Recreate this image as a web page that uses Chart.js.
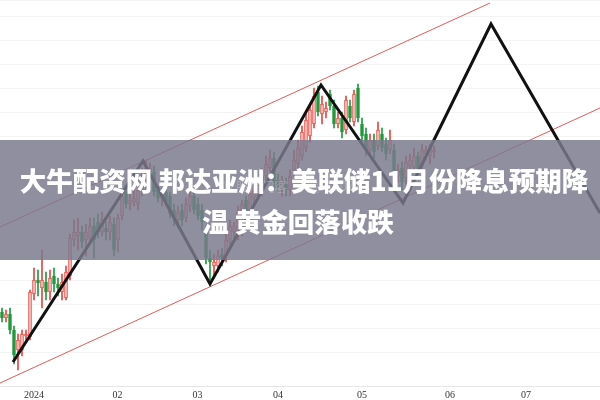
<!DOCTYPE html>
<html>
<head>
<meta charset="utf-8">
<script src="https://cdn.jsdelivr.net/npm/chart.js@4.4.1/dist/chart.umd.min.js"></script>
<style>
  html, body { margin: 0; padding: 0; background: #fff; }
  #wrap { width: 600px; height: 400px; }
</style>
</head>
<body>
<div id="wrap"><canvas id="goldChart" width="600" height="400"></canvas></div>
<script>
// month labels and the trading-day index where each month starts
const monthLabels = ['2024', '02', '03', '04', '05', '06', '07'];
const monthStart = [8.5, 29.4, 49.4, 69.5, 90.5, 112.5, 131.5];

// daily candles (one per trading day)
const opens  = [2080,2074,2078,2062,2042,2042,2056,2055,2098,2112,2104,2110,2100,2116,2108,2100,2094,2116,2152,2156,
                2160,2152,2154,2166,2170,2160,2164,2160,2168,2152,2176,2200,2188,2190,2188,2200,2212,2220,2220,2202,
                2194,2200,2196,2182,2172,2182,2174,2186,2196,2188,2182,2160,2134,2126,2126,2138,2136,2150,2160,2160,
                2176,2192,2182,2194,2196,2202,2216,2224,2234,2212,2204,2208,2202,2222,2228,2236,2244,2256,2268,2300,
                2278,2280,2298,2286,2268,2274,2262,2286,2270,2304,2268,2258,2242,2252,2246,2258,2248,2242,2242,2216,
                2224,2214,2226,2224,2236,2226,2238,2236,2240];
const highs  = [2084,2082,2084,2066,2058,2062,2062,2102,2124,2122,2142,2120,2122,2124,2114,2118,2126,2158,2172,2174,
                2166,2168,2174,2174,2178,2180,2170,2176,2174,2178,2202,2206,2198,2204,2206,2224,2232,2229,2226,2206,
                2204,2206,2200,2188,2186,2188,2194,2206,2202,2194,2188,2164,2142,2138,2142,2144,2158,2172,2170,2186,
                2192,2196,2204,2210,2214,2224,2236,2242,2240,2218,2216,2214,2222,2242,2252,2266,2278,2288,2304,2306,
                2296,2290,2302,2292,2280,2280,2296,2292,2302,2308,2274,2264,2258,2258,2270,2264,2254,2262,2248,2228,
                2230,2236,2238,2244,2240,2248,2246,2248,2246];
const lows   = [2070,2070,2058,2028,2022,2036,2050,2052,2092,2096,2084,2092,2092,2100,2096,2092,2092,2112,2146,2142,
                2144,2136,2148,2134,2154,2156,2152,2152,2136,2140,2172,2184,2182,2186,2182,2196,2202,2214,2196,2190,
                2186,2186,2174,2166,2164,2166,2170,2180,2178,2172,2162,2128,2112,2116,2120,2126,2130,2146,2152,2152,
                2156,2174,2178,2188,2192,2196,2212,2220,2204,2200,2196,2196,2196,2216,2222,2232,2240,2250,2264,2276,
                2268,2274,2282,2264,2264,2254,2258,2270,2266,2270,2250,2236,2236,2234,2242,2240,2232,2238,2210,2210,
                2202,2208,2220,2220,2218,2222,2232,2228,2234];
const closes = [2074,2078,2062,2037,2052,2058,2058,2100,2112,2109,2112,2100,2114,2108,2104,2110,2120,2154,2160,2160,
                2150,2160,2166,2152,2160,2172,2160,2170,2142,2174,2196,2188,2192,2194,2202,2216,2224,2224,2200,2194,
                2198,2190,2178,2174,2180,2172,2188,2196,2182,2176,2170,2134,2130,2130,2136,2134,2152,2166,2166,2180,
                2188,2180,2198,2204,2208,2216,2228,2234,2210,2206,2212,2202,2216,2232,2244,2260,2272,2282,2296,2280,
                2288,2284,2286,2268,2274,2260,2292,2274,2298,2274,2256,2242,2252,2240,2262,2244,2238,2252,2216,2222,
                2210,2230,2232,2236,2222,2242,2242,2244,2242];

// hand drawn swing line (day index, price)
const swingX = [3.25, 35.75, 52.5, 80.25, 100.75, 122.75, 150];
const swingY = [2030, 2231, 2108, 2307, 2189, 2368, 2179];

// parallel channel lines
const upperX = [0, 122.5];
const upperY = [2165, 2389];
const lowerX = [0, 150];
const lowerY = [2009, 2284];

const titleLines = ['大牛配资网 邦达亚洲：美联储11月份降息预期降', '温 黄金回落收跌'];
const watermark = '© 股海门客 · 股市007';

const UP = '#e8453f';
const DOWN = '#1f9a3c';

const candleX = opens.map((o, i) => i + 0.5);
const isUp = i => closes[i] >= opens[i];

const wicks = candleX.map((x, i) => ({ x: x, y: [lows[i], highs[i]] }));
const bodies = candleX.map((x, i) => {
    let a = Math.min(opens[i], closes[i]);
    let b = Math.max(opens[i], closes[i]);
    if (b - a < 1.5) b = a + 1.5;
    return { x: x, y: [a, b] };
});
const toPts = (xs, ys) => xs.map((x, i) => ({ x: x, y: ys[i] }));

// grey banner with the headline on top of the chart
const bannerPlugin = {
    id: 'banner',
    afterDraw(chart) {
        const ctx = chart.ctx;
        ctx.save();
        ctx.fillStyle = 'rgba(122,122,142,0.84)';
        ctx.fillRect(0, 140, 600, 120);

        ctx.fillStyle = 'rgba(255,255,255,0.22)';
        ctx.font = '13px "Noto Sans CJK SC", sans-serif';
        ctx.textAlign = 'left';
        ctx.textBaseline = 'middle';
        ctx.fillText(watermark, 222, 186);

        ctx.fillStyle = '#fff';
        ctx.font = '900 26.5px "Noto Sans CJK SC", "Noto Sans", sans-serif';
        ctx.textAlign = 'center';
        ctx.fillText(titleLines[0], 304, 181);
        ctx.fillText(titleLines[1], 298, 222);
        ctx.restore();
    }
};

new Chart(document.getElementById('goldChart'), {
    type: 'bar',
    data: {
        datasets: [
            {
                type: 'line',
                data: toPts(swingX, swingY),
                borderColor: '#111',
                borderWidth: 3,
                pointRadius: 0,
                tension: 0,
                order: 0
            },
            {
                type: 'line',
                data: toPts(upperX, upperY),
                borderColor: '#e35a5a',
                borderWidth: 1,
                pointRadius: 0,
                order: 1
            },
            {
                type: 'line',
                data: toPts(lowerX, lowerY),
                borderColor: '#e35a5a',
                borderWidth: 1,
                pointRadius: 0,
                order: 1
            },
            {
                data: bodies,
                barThickness: 3,
                backgroundColor: ctx => isUp(ctx.dataIndex) ? 'rgba(255,215,215,0.9)' : DOWN,
                borderColor: ctx => isUp(ctx.dataIndex) ? UP : DOWN,
                borderWidth: 1,
                borderSkipped: false,
                grouped: false,
                order: 2
            },
            {
                data: wicks,
                barThickness: 1,
                backgroundColor: ctx => isUp(ctx.dataIndex) ? UP : DOWN,
                grouped: false,
                order: 3
            }
        ]
    },
    options: {
        responsive: false,
        animation: false,
        events: [],
        layout: { padding: 0 },
        plugins: {
            legend: { display: false },
            tooltip: { enabled: false }
        },
        scales: {
            x: {
                type: 'linear',
                offset: false,
                min: 0,
                max: 150,
                afterBuildTicks: s => { s.ticks = monthStart.map(v => ({ value: v })); },
                afterFit: s => { s.height = 14; },
                grid: { display: false, drawTicks: false, offset: false },
                border: { color: 'rgba(0,0,0,0.06)' },
                ticks: {
                    autoSkip: false,
                    maxRotation: 0,
                    padding: 3,
                    color: '#333',
                    font: { family: '"Liberation Serif", serif', size: 10 },
                    callback: (v, i) => monthLabels[i]
                }
            },
            y: {
                min: 2006,
                max: 2392,
                afterFit: s => { s.width = 0; },
                ticks: { display: false, stepSize: 24 },
                border: { display: false },
                grid: { color: 'rgba(0,0,0,0.045)', drawTicks: false }
            }
        }
    },
    plugins: [bannerPlugin]
});
</script>
</body>
</html>
